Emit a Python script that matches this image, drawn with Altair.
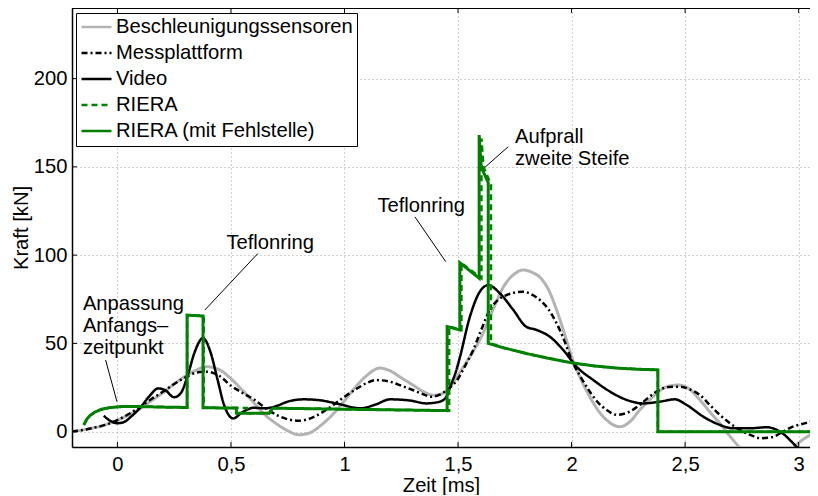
import altair as alt
import pandas as pd

FONT = "Liberation Sans"
FS = 20.2

# ---------------- data ----------------
series_names = ["Beschleunigungssensoren", "Messplattform", "Video", "RIERA", "RIERA (mit Fehlstelle)"]
series_colors = ["#b3b3b3", "#000000", "#000000", "#008000", "#008000"]
series_dashes = [[1, 0], [6, 3, 2, 3], [1, 0], [6, 4], [1, 0]]
series_widths = [3.0, 2.5, 2.5, 2.5, 3.0]
series_interp = ["monotone", "monotone", "monotone", "linear", "linear"]

accel_t = [-0.2, -0.15, -0.1, -0.05, 0.0, 0.05, 0.1, 0.15, 0.2, 0.25, 0.3, 0.35, 0.39, 0.45, 0.5,
           0.55, 0.6, 0.65, 0.7, 0.75, 0.8, 0.85, 0.9, 0.95, 1.0, 1.05, 1.1, 1.155, 1.2, 1.25, 1.3,
           1.35, 1.39, 1.43, 1.47, 1.5, 1.55, 1.6, 1.65, 1.7, 1.75, 1.787, 1.83, 1.86, 1.9, 1.934,
           1.97, 2.0, 2.04, 2.08, 2.12, 2.154, 2.213, 2.26, 2.3, 2.34, 2.374, 2.42, 2.47, 2.52,
           2.565, 2.61, 2.653, 2.7, 2.74, 2.8, 2.86, 2.92, 2.98, 3.03, 3.085]
accel_F = [0.0, 1.0, 2.3, 4.0, 6.5, 9.5, 13.0, 17.5, 22.0, 27.0, 31.5, 35.0, 36.8, 35.0, 30.0,
           23.5, 16.5, 9.5, 4.5, 0.5, -1.8, -0.5, 4.0, 10.0, 17.5, 25.5, 32.0, 36.0, 34.5, 30.5, 26.5,
           22.5, 20.6, 21.5, 26.0, 32.0, 42.0, 53.0, 68.0, 82.0, 89.5, 91.6, 90.0, 87.5, 80.0, 69.0,
           55.0, 42.5, 30.0, 19.8, 11.5, 6.6, 2.8, 6.0, 12.3, 17.5, 21.7, 25.5, 26.4, 24.0,
           18.0, 11.0, 4.7, -3.0, -9.0, -17.0, -20.0, -17.0, -8.5, -3.5, 0.0]

platform_t = [-0.2, -0.15, -0.1, -0.05, 0.0, 0.05, 0.1, 0.15, 0.2, 0.25, 0.3, 0.35, 0.39, 0.45, 0.5,
              0.55, 0.6, 0.65, 0.7, 0.75, 0.8, 0.85, 0.9, 0.95, 1.0, 1.05, 1.1, 1.14, 1.2, 1.25, 1.3,
              1.35, 1.38, 1.42, 1.46, 1.5, 1.53, 1.567, 1.6, 1.64, 1.68, 1.714, 1.786, 1.82, 1.86,
              1.9, 1.934, 1.97, 2.0, 2.04, 2.08, 2.12, 2.154, 2.2, 2.25, 2.3, 2.34, 2.374, 2.43,
              2.48, 2.52, 2.565, 2.61, 2.653, 2.7, 2.74, 2.79, 2.83, 2.887, 2.93, 2.975, 3.03, 3.085]
platform_F = [0.0, 1.0, 2.3, 4.0, 6.5, 10.0, 14.0, 18.5, 22.6, 27.0, 30.8, 33.5, 34.0, 31.5, 26.0,
              22.0, 18.3, 13.5, 9.5, 7.0, 6.2, 7.5, 10.8, 15.0, 19.8, 24.0, 27.7, 29.2, 28.3, 26.0, 23.6,
              21.0, 19.8, 21.0, 24.5, 30.0, 37.0, 46.3, 57.0, 69.0, 75.0, 77.4, 79.3, 78.0, 74.6,
              69.0, 61.4, 51.0, 40.6, 31.0, 22.7, 16.0, 12.3, 9.5, 11.0, 15.1, 19.5, 22.7, 25.3,
              25.5, 24.0, 20.8, 15.0, 9.5, 4.5, 1.0, -2.0, -3.7, -3.0, 0.0, 2.8, 4.8, 6.8]

video_t = [-0.06, -0.03, 0.0, 0.03, 0.06, 0.1, 0.14, 0.18, 0.21, 0.25, 0.28, 0.31, 0.34, 0.377,
           0.41, 0.44, 0.47, 0.51, 0.55, 0.6, 0.65, 0.7, 0.75, 0.82, 0.89, 0.98, 1.07, 1.14, 1.2,
           1.29, 1.36, 1.42, 1.449, 1.464, 1.493, 1.508, 1.552, 1.596, 1.633, 1.684, 1.743, 1.8,
           1.846, 1.904, 1.963, 2.022, 2.095, 2.169, 2.242, 2.315, 2.389, 2.455, 2.507, 2.58,
           2.653, 2.71, 2.785, 2.86, 2.918, 2.99, 3.03]
video_F = [9.0, 6.0, 4.8, 5.5, 8.5, 13.5, 20.0, 24.5, 23.5, 19.5, 22.0, 32.0, 45.0, 53.0,
           45.0, 30.0, 15.0, 7.5, 11.0, 13.5, 13.2, 14.5, 17.0, 18.3, 17.8, 15.5, 13.2, 15.5, 18.3,
           17.6, 16.0, 17.0, 19.8, 25.0, 35.0, 42.0, 65.0, 79.3, 83.0, 78.4, 69.0, 59.5,
           57.6, 53.8, 46.3, 36.8, 29.3, 22.7, 18.0, 16.0, 17.0, 18.3, 15.1, 8.5,
           3.8, 1.9, 1.9, 2.5, 0.0, -8.5, -14.0]

riera_t = [-0.148, -0.135, -0.12, -0.1, -0.07, -0.034, 0.02, 0.1, 0.2, 0.307, 0.307, 0.38, 0.38,
           0.57, 0.57, 0.668, 0.685, 1.0, 1.3, 1.461, 1.461, 1.515, 1.515, 1.603, 1.603, 1.612,
           1.645, 1.645, 1.7, 1.8, 1.9, 2.0, 2.1, 2.2, 2.3, 2.38, 2.38, 3.085]
riera_F = [3.8, 7.0, 9.2, 11.0, 12.7, 13.6, 14.2, 14.2, 13.9, 13.7, 66.0, 65.5, 13.5,
           13.4, 10.4, 10.4, 13.3, 12.7, 12.2, 11.9, 59.5, 57.6, 95.5, 86.9, 166.0, 150.0,
           140.0, 50.0, 47.5, 44.3, 41.5, 39.0, 37.2, 36.0, 35.3, 35.0, 0.0, 0.0]

defect_t = [-0.148, -0.135, -0.12, -0.1, -0.07, -0.034, 0.02, 0.1, 0.2, 0.307, 0.307, 0.377, 0.377,
            0.524, 0.524, 0.668, 0.685, 1.0, 1.3, 1.452, 1.452, 1.508, 1.508, 1.593, 1.593, 1.602,
            1.633, 1.633, 1.7, 1.8, 1.9, 2.0, 2.1, 2.2, 2.3, 2.38, 2.38, 3.085]
defect_F = [3.8, 7.0, 9.2, 11.0, 12.7, 13.6, 14.2, 14.2, 13.9, 13.7, 66.0, 65.5, 13.5,
            13.4, 10.4, 10.4, 13.3, 12.7, 12.2, 11.9, 59.5, 57.6, 95.7, 86.9, 168.0, 150.0,
            141.0, 50.0, 47.5, 44.3, 41.5, 39.0, 37.2, 36.0, 35.3, 35.0, 0.0, 0.0]

x_ticks = [0, 0.5, 1, 1.5, 2, 2.5, 3]
y_ticks = [0, 50, 100, 150, 200]

annot_text = ["Anpassung\nAnfangs\u2013\nzeitpunkt", "Teflonring", "Teflonring", "Aufprall\nzweite Steife"]
annot_tx = [-0.152, 0.48, 1.145, 1.751]
annot_ty = [68.9, 103.3, 124.5, 163.6]

pointer_x1 = [-0.052, 0.619, 1.310, 1.721]
pointer_y1 = [40.6, 101.0, 121.7, 161.4]
pointer_x2 = [-0.002, 0.385, 1.446, 1.618]
pointer_y2 = [17.0, 68.9, 96.3, 149.7]

# ---------------- chart ----------------
W, H = 738, 439
x_scale = alt.Scale(domain=[-0.2, 3.05], nice=False, zero=False)
y_scale = alt.Scale(domain=[-8.7, 240], nice=False, zero=False)
color_scale = alt.Scale(domain=series_names, range=series_colors)
dash_scale = alt.Scale(domain=series_names, range=series_dashes)

legend = alt.Legend(title=None, orient="none", legendX=4, legendY=5, padding=4,
                    strokeColor="black", fillColor="white", symbolType="stroke",
                    symbolSize=900, symbolStrokeWidth=2.5, labelFont=FONT, labelFontSize=FS,
                    labelColor="black", labelOffset=3, labelLimit=400, clipHeight=20,
                    rowPadding=5)

x_axis = alt.Axis(values=x_ticks, title="Zeit [ms]", grid=True, ticks=False, tickSize=0,
                  domain=True, labelPadding=7,
                  labelExpr="replace(format(datum.value, '~g'), '.', ',')",
                  titleY=44, titleBaseline="alphabetic")
y_axis = alt.Axis(values=y_ticks, title="Kraft [kN]", grid=True, ticks=False, tickSize=0,
                  domain=True, labelPadding=5, titleX=-45, titleBaseline="alphabetic")

all_t = [accel_t, platform_t, video_t, riera_t, defect_t]
all_F = [accel_F, platform_F, video_F, riera_F, defect_F]

layers = []
for k, name in enumerate(series_names):
    df = pd.DataFrame({"t": all_t[k], "F": all_F[k], "series": name,
                       "i": list(range(len(all_t[k])))})
    layer = alt.Chart(df).mark_line(clip=True, strokeWidth=series_widths[k],
                                    interpolate=series_interp[k]).encode(
        x=alt.X("t:Q", scale=x_scale, axis=x_axis),
        y=alt.Y("F:Q", scale=y_scale, axis=y_axis),
        color=alt.Color("series:N", scale=color_scale, legend=legend),
        strokeDash=alt.StrokeDash("series:N", scale=dash_scale, legend=legend),
        order=alt.Order("i:Q"),
    )
    layers.append(layer)

xt = pd.DataFrame({"t": x_ticks})
yt = pd.DataFrame({"F": y_ticks})
tick_bottom = alt.Chart(xt).mark_rule(color="black", strokeWidth=1).encode(
    x=alt.X("t:Q", scale=x_scale), y=alt.value(H), y2=alt.value(H - 5))
tick_top = alt.Chart(xt).mark_rule(color="black", strokeWidth=1).encode(
    x=alt.X("t:Q", scale=x_scale), y=alt.value(0), y2=alt.value(5))
tick_left = alt.Chart(yt).mark_rule(color="black", strokeWidth=1).encode(
    y=alt.Y("F:Q", scale=y_scale), x=alt.value(0), x2=alt.value(5))
top_border = alt.Chart(xt).mark_rule(color="black", strokeWidth=1.5).encode(
    x=alt.value(0), x2=alt.value(W), y=alt.value(0))

ptr = pd.DataFrame({"x1": pointer_x1, "y1": pointer_y1, "x2": pointer_x2, "y2": pointer_y2})
pointers = alt.Chart(ptr).mark_rule(color="black", strokeWidth=1).encode(
    x=alt.X("x1:Q", scale=x_scale), y=alt.Y("y1:Q", scale=y_scale),
    x2="x2:Q", y2="y2:Q")

ann = pd.DataFrame({"tx": annot_tx, "ty": annot_ty, "label": annot_text})
texts = alt.Chart(ann).mark_text(align="left", baseline="alphabetic", font=FONT, fontSize=FS,
                                 color="black", lineBreak="\n", lineHeight=22).encode(
    x=alt.X("tx:Q", scale=x_scale), y=alt.Y("ty:Q", scale=y_scale), text="label:N")

chart = alt.layer(*layers, tick_bottom, tick_top, tick_left, top_border, pointers, texts).properties(
    width=W, height=H,
    autosize=alt.AutoSizeParams(type="none"),
    padding={"left": 64, "top": 0, "right": 0, "bottom": 48},
).configure_view(
    stroke=None
).configure_axis(
    labelFont=FONT, titleFont=FONT, labelFontSize=FS, titleFontSize=FS,
    labelColor="black", titleColor="black", titleFontWeight="normal",
    domainColor="black", domainWidth=1.5,
    gridColor="#a0a0a0", gridDash=[1, 3], gridWidth=1, gridOpacity=1,
)

chart.save("out.html", embed_options={"renderer": "svg", "actions": False})
